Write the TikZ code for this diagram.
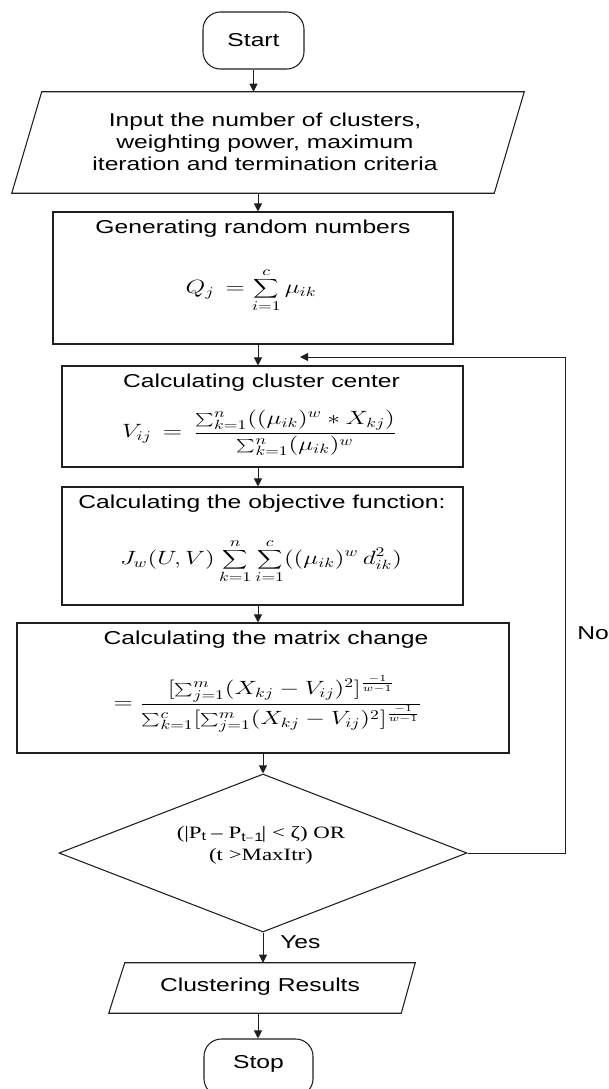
\documentclass[tikz,border=0pt]{standalone}
\usepackage{fontspec}
\setmainfont{Liberation Sans}[FakeStretch=1.32]
\newfontfamily\serifst{Liberation Serif}[FakeStretch=1.32]
\usepackage{graphicx}
\usetikzlibrary{shapes.geometric,calc,arrows.meta}
\newcommand{\sx}[1]{\scalebox{1.32}[1]{#1}}
\begin{document}
\begin{tikzpicture}[x=0.75pt,y=-0.75pt,
  font=\fontsize{14}{16.5}\selectfont,
  line/.style={draw=black!88, line width=0.8pt},
  boxnode/.style={line, rectangle, inner sep=0pt},
  ghost/.style={rectangle, inner sep=0pt, draw=none},
  termnode/.style={line, rectangle, rounded corners=13pt, inner sep=0pt},
  decnode/.style={line, diamond, inner sep=0pt, minimum width=306pt, minimum height=118.5pt},
  lbl/.style={inner sep=0pt, align=center},
  arr/.style={draw=black!88, line width=0.75pt, -{Triangle[length=6pt,width=6pt]}}
]
\useasboundingbox (0,0) rectangle (608,1089);
\clip (0,0) rectangle (608,1089);

% nodes
\node[termnode, minimum width=75.75pt, minimum height=42.75pt] (start) at (253.5,40.5) {};
\node[lbl] (starttxt) at (253.5,40.5) {Start};

\node[ghost, minimum width=339pt, minimum height=75.75pt] (inp) at (268,142.5) {};
\draw[line] (inp.north west) -- ($(inp.north east)+(30,0)$) -- (inp.south east) -- ($(inp.south west)+(-30,0)$) -- cycle;
\node[lbl] (inptxt) at (265,142) {Input the number of clusters,\\ weighting power, maximum\\ iteration and termination criteria};

\node[boxnode, minimum width=300pt, minimum height=99pt] (gen) at (253,278) {};
\node[lbl] (gentitle) at (253,229) {Generating random numbers};
\node[lbl] (genf) at (251,290) {\sx{$\displaystyle Q_j \,=\sum_{i=1}^{c}\mu_{ik}$}};

\node[boxnode, minimum width=300.75pt, minimum height=75.75pt] (cc) at (262.5,416.5) {};
\node[lbl] (cctitle) at (261.5,383) {Calculating cluster center};
\node[lbl] (ccf) at (259.5,433) {\sx{$\displaystyle V_{ij} \,=\, \frac{\sum_{k=1}^{n}((\mu_{ik})^{w} * X_{kj})}{\sum_{k=1}^{n}(\mu_{ik})^{w}}$}};

\node[boxnode, minimum width=300.75pt, minimum height=88.5pt] (obj) at (262.5,546) {};
\node[lbl] (objtitle) at (262,504) {Calculating the objective function:};
\node[lbl] (objf) at (261,561) {\sx{$\displaystyle J_w(U,V)\sum_{k=1}^{n}\sum_{i=1}^{c}((\mu_{ik})^{w}\, d_{ik}^{2})$}};

\node[boxnode, minimum width=369pt, minimum height=97.5pt] (mat) at (263,688) {};
\node[lbl] (mattitle) at (266,640) {Calculating the matrix change};
\node[lbl] (matf) at (268,704) {\sx{$\displaystyle =\frac{[\sum_{j=1}^{m}(X_{kj}-V_{ij})^2]^{\frac{-1}{w-1}}}{\sum_{k=1}^{c}[\sum_{j=1}^{m}(X_{kj}-V_{ij})^2]^{\frac{-1}{w-1}}}$}};

\node[decnode] (dia) at (263,853) {};
\node[lbl, font=\serifst\fontsize{13}{16.5}\selectfont] (diatxt) at (261,845) {(|P$_{\mathrm{t}}$ – P$_{\mathrm{t-1}}$| < ζ) OR\\ (t >MaxItr)};

\node[ghost, minimum width=207pt, minimum height=37.5pt] (res) at (263,988) {};
\draw[line] (res.north west) -- ($(res.north east)+(14,0)$) -- (res.south east) -- ($(res.south west)+(-16,0)$) -- cycle;
\node[lbl] (restxt) at (260,987) {Clustering Results};

\node[termnode, minimum width=81.75pt, minimum height=42.75pt] (stop) at (258.5,1067.5) {};
\node[lbl] (stoptxt) at (258.5,1064) {Stop};

\node[lbl, anchor=west] (yes) at (280,942) {Yes};
\node[lbl] (no) at (593,633) {No};

% connectors
\coordinate (spine) at (258,0);
\coordinate (loopx) at (565,0);
\coordinate (join) at (300,357);
\draw[arr] (start.south) -- (start.south |- inp.north);
\draw[arr] (inp.south -| spine) -- (gen.north -| spine);
\draw[arr] (gen.south -| spine) -- (cc.north -| spine);
\draw[arr] (cc.south -| spine) -- (obj.north -| spine);
\draw[arr] (obj.south -| spine) -- (mat.north -| spine);
\draw[arr] (dia.north |- mat.south) -- (dia.north);
\draw[arr] (dia.south) -- (dia.south |- res.north);
\draw[arr] (res.south -| spine) -- (stop.north -| spine);
\draw[arr] (dia.east) -- (dia.east -| loopx) -- (join -| loopx) -- (join);
\end{tikzpicture}
\end{document}
